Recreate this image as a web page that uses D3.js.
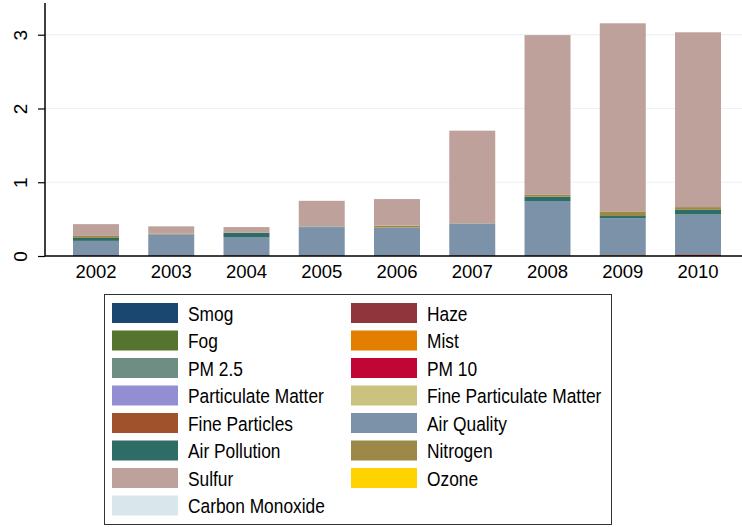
<!DOCTYPE html>
<html>
<head>
<meta charset="utf-8">
<script src="https://cdn.jsdelivr.net/npm/d3@7"></script>
<style>
  body { margin: 0; background: #fff; }
  svg { display: block; font-family: "Liberation Sans", Arial, sans-serif; }
</style>
</head>
<body>
<svg id="chart" width="742" height="527"></svg>
<script>
// categories
let years = ['2002', '2003', '2004', '2005', '2006', '2007', '2008', '2009', '2010']
// series in stacking order (bottom -> top), same order as legend
let series = ['Smog', 'Haze', 'Fog', 'Mist', 'PM 2.5', 'PM 10', 'Particulate Matter',
  'Fine Particulate Matter', 'Fine Particles', 'Air Quality', 'Air Pollution',
  'Nitrogen', 'Sulfur', 'Ozone', 'Carbon Monoxide']
let colors = ['#1a476f', '#90353b', '#55752f', '#e37e00', '#6e8e84', '#c10534', '#938dd2',
  '#cac27e', '#a0522d', '#7b92a8', '#2d6d66', '#9c8847', '#bfa19c', '#ffd200', '#d9e6eb']

let smog         = [0, 0, 0, 0, 0, 0, 0, 0, 0]
let haze         = [0, 0, 0, 0, 0, 0, 0, 0, 0.023]
let fog          = [0, 0, 0, 0, 0, 0, 0, 0, 0]
let mist         = [0, 0, 0, 0, 0, 0, 0, 0.012, 0]
let pm25         = [0, 0, 0, 0, 0, 0, 0, 0, 0]
let pm10         = [0, 0, 0, 0, 0, 0, 0, 0, 0]
let partMatter   = [0, 0, 0, 0, 0, 0, 0, 0, 0]
let finePM       = [0, 0, 0, 0, 0, 0, 0, 0, 0]
let fineParts    = [0, 0, 0, 0, 0, 0, 0, 0, 0]
let airQuality   = [0.205, 0.294, 0.257, 0.39, 0.385, 0.434, 0.745, 0.5, 0.54]
let airPollution = [0.04, 0, 0.058, 0.008, 0, 0.005, 0.06, 0.03, 0.063]
let nitrogen     = [0.027, 0.008, 0, 0, 0.027, 0, 0.03, 0.063, 0.037]
let sulfur       = [0.16, 0.1, 0.077, 0.35, 0.36, 1.26, 2.16, 2.55, 2.37]
let ozone        = [0, 0, 0, 0, 0, 0, 0, 0, 0]
let carbonMon    = [0, 0, 0, 0, 0, 0, 0, 0, 0]

let yTicks = [0, 1, 2, 3]

let values = [smog, haze, fog, mist, pm25, pm10, partMatter, finePM, fineParts,
  airQuality, airPollution, nitrogen, sulfur, ozone, carbonMon]

// build rows for d3.stack
let rows = years.map((yr, i) => {
  let r = { year: yr }
  series.forEach((s, j) => { r[s] = values[j][i] })
  return r
})

let svg = d3.select('#chart')
let mLeft = 45, mBottom = 256, mTop = 3, mRight = 742

let x = d3.scaleBand()
  .domain(years)
  .range([mLeft, 749])
  .paddingInner(0.389)
  .paddingOuter(0.372)

let y = d3.scaleLinear()
  .domain([0, 3.43])
  .range([mBottom, mTop])

// grid
svg.append('g')
  .selectAll('line')
  .data(yTicks.filter(d => d > 0))
  .enter()
  .append('line')
  .attr('x1', mLeft)
  .attr('x2', mRight)
  .attr('y1', d => y(d))
  .attr('y2', d => y(d))
  .style('stroke', '#eaf2f3')
  .style('stroke-width', 1.2)

let stacked = d3.stack().keys(series)(rows)

svg.append('g')
  .selectAll('g')
  .data(stacked)
  .enter()
  .append('g')
  .style('fill', (d, i) => colors[i])
  .selectAll('rect')
  .data(d => d)
  .enter()
  .append('rect')
  .attr('x', d => x(d.data.year))
  .attr('width', x.bandwidth())
  .attr('y', d => y(d[1]))
  .attr('height', d => y(d[0]) - y(d[1]))

// y axis
let yAxis = svg.append('g')
  .attr('transform', 'translate(' + mLeft + ',0)')
  .call(d3.axisLeft(y).tickValues(yTicks).tickSize(7).tickFormat(d3.format('d')))
yAxis.select('.domain').remove()
yAxis.selectAll('line').style('stroke', '#000').style('stroke-width', 1.2)
yAxis.selectAll('text').remove()
yAxis.selectAll('.tick')
  .append('text')
  .text(d => d)
  .attr('transform', 'translate(-18,0) rotate(-90)')
  .attr('text-anchor', 'middle')
  .style('fill', '#000')
  .style('font-size', '19px')

svg.append('line')
  .attr('x1', mLeft).attr('x2', mLeft)
  .attr('y1', mTop).attr('y2', mBottom)
  .style('stroke', '#000').style('stroke-width', 1.5)

// x axis
svg.append('line')
  .attr('x1', mLeft).attr('x2', mRight)
  .attr('y1', mBottom).attr('y2', mBottom)
  .style('stroke', '#000').style('stroke-width', 1.5)

svg.append('g')
  .selectAll('text')
  .data(years)
  .enter()
  .append('text')
  .text(d => d)
  .attr('x', d => x(d) + x.bandwidth() / 2)
  .attr('y', 278)
  .attr('text-anchor', 'middle')
  .style('font-size', '18.5px')

// legend
let legend = svg.append('g')
legend.append('rect')
  .attr('x', 104.5).attr('y', 294.5)
  .attr('width', 507).attr('height', 230)
  .style('fill', '#fff')
  .style('stroke', '#333')
  .style('stroke-width', 1)

let item = legend.selectAll('g.item')
  .data(series)
  .enter()
  .append('g')
  .attr('class', 'item')
  .attr('transform', (d, i) => 'translate(' + (i % 2 ? 351 : 112) + ',' + (303 + Math.floor(i / 2) * 27.5) + ')')

item.append('rect')
  .attr('width', 66).attr('height', 20)
  .style('fill', (d, i) => colors[i])

// the legend font is a bit narrower than Arial, so squeeze it sideways
item.append('text')
  .text(d => d)
  .attr('transform', 'translate(76,17.5) scale(0.89,1)')
  .style('font-size', '19.5px')
</script>
</body>
</html>
